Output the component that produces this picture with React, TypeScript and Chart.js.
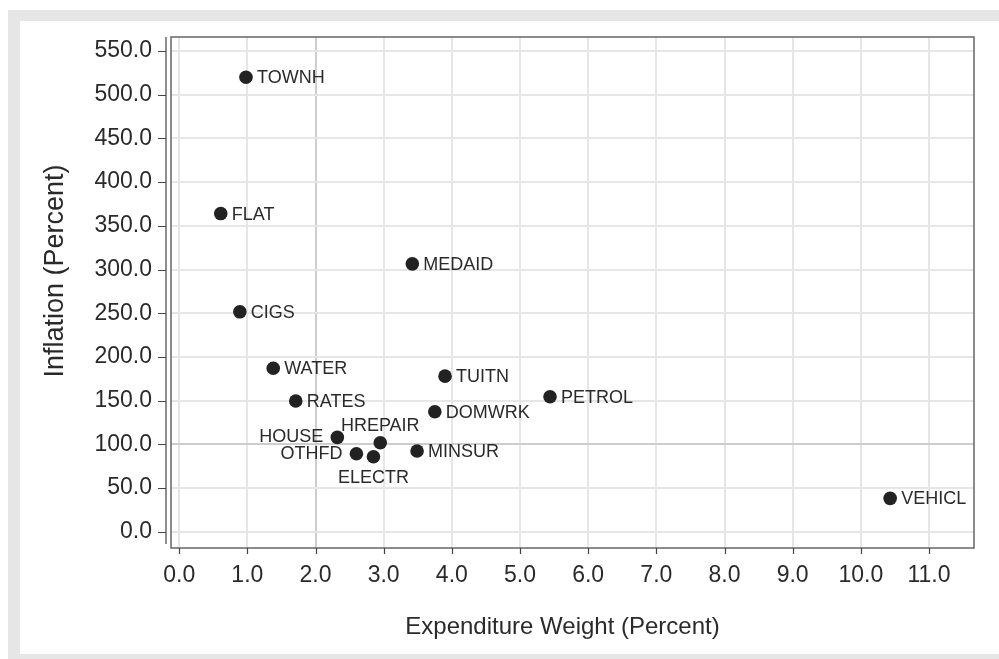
import React, { useEffect, useRef } from "react";
import { Chart, registerables } from "chart.js";

Chart.register(...registerables);

const names = ["TOWNH", "FLAT", "MEDAID", "CIGS", "WATER", "TUITN", "PETROL", "RATES", "DOMWRK", "HOUSE", "HREPAIR", "MINSUR", "OTHFD", "ELECTR", "VEHICL"];
const weights = [0.98, 0.61, 3.42, 0.89, 1.38, 3.9, 5.44, 1.71, 3.75, 2.32, 2.95, 3.49, 2.6, 2.85, 10.43];
const inflation = [520, 364, 306.5, 251.6, 187, 178, 154.4, 149.5, 137.2, 108, 101.8, 92.3, 89.2, 85.8, 38.2];

const xTitle = "Expenditure Weight (Percent)";
const yTitle = "Inflation (Percent)";

// label placement (style only)
const labelSide: Record<string, string> = { HOUSE: "left", OTHFD: "left", HREPAIR: "above", ELECTR: "below" };

const FONT = '"Liberation Sans", Arial, Helvetica, sans-serif';
const TEXT = "#2a2a2a";

const decor = {
  id: "decor",
  beforeDatasetsDraw(chart: any) {
    const { ctx, chartArea: a, scales } = chart;
    ctx.save();
    ctx.strokeStyle = "#666";
    ctx.lineWidth = 1.5;
    ctx.strokeRect(a.left, a.top, a.right - a.left, a.bottom - a.top);
    ctx.strokeStyle = "#444";
    ctx.lineWidth = 1.2;
    ctx.beginPath();
    ctx.moveTo(a.left - 5, a.top);
    ctx.lineTo(a.left - 5, a.bottom - 4);
    scales.y.ticks.forEach((t: any) => {
      const p = Math.round(scales.y.getPixelForValue(t.value)) + 0.5;
      ctx.moveTo(a.left - 13, p);
      ctx.lineTo(a.left - 5, p);
    });
    scales.x.ticks.forEach((t: any) => {
      const p = Math.round(scales.x.getPixelForValue(t.value)) + 0.5;
      ctx.moveTo(p, a.bottom);
      ctx.lineTo(p, a.bottom + 6);
    });
    ctx.stroke();
    ctx.restore();
  },
  afterDatasetsDraw(chart: any) {
    const { ctx, chartArea: a } = chart;
    const meta = chart.getDatasetMeta(0);
    ctx.save();
    ctx.fillStyle = TEXT;
    ctx.font = `18px ${FONT}`;
    meta.data.forEach((el: any, i: number) => {
      const name = names[i];
      const side = labelSide[name] || "right";
      let x = el.x, y = el.y;
      if (side === "right") { ctx.textAlign = "left"; ctx.textBaseline = "middle"; x += 11; y += 1; }
      else if (side === "left") { ctx.textAlign = "right"; ctx.textBaseline = "middle"; x -= 14; }
      else if (side === "above") { ctx.textAlign = "center"; ctx.textBaseline = "bottom"; y -= 8; }
      else { ctx.textAlign = "center"; ctx.textBaseline = "top"; y += 12; }
      ctx.fillText(name, x, y);
    });
    // axis titles
    ctx.textAlign = "center";
    ctx.textBaseline = "middle";
    ctx.font = `24px ${FONT}`;
    ctx.fillText(xTitle, (a.left + a.right) / 2 - 10, a.bottom + 79);
    ctx.font = `27px ${FONT}`;
    ctx.translate(a.left - 115, a.top + 234);
    ctx.rotate(-Math.PI / 2);
    ctx.fillText(yTitle, 0, 0);
    ctx.restore();
  },
};

export default function App() {
  const ref = useRef<HTMLCanvasElement>(null);
  useEffect(() => {
    if (!ref.current) return;
    const chart = new Chart(ref.current, {
      type: "scatter",
      data: {
        datasets: [
          {
            data: weights.map((w, i) => ({ x: w, y: inflation[i] })),
            backgroundColor: "#222",
            borderWidth: 0,
            pointRadius: 6.8,
            pointHoverRadius: 6.8,
          },
        ],
      },
      options: {
        responsive: false,
        animation: false,
        devicePixelRatio: 1,
        layout: { padding: { top: 16, right: 25, left: 0, bottom: 0 } },
        plugins: { legend: { display: false }, tooltip: { enabled: false } },
        scales: {
          x: {
            type: "linear",
            min: -0.12,
            max: 11.66,
            afterFit: (s: any) => { s.height = 106; s.paddingLeft = 0; s.paddingRight = 0; },
            border: { display: false },
            grid: { color: (c: any) => (c.tick && c.tick.value === 2 ? "#cdcdcd" : "#e6e6e6"), lineWidth: 2, drawTicks: false },
            ticks: {
              stepSize: 1,
              includeBounds: false,
              autoSkip: false,
              maxRotation: 0,
              padding: 14,
              color: TEXT,
              font: { family: FONT, size: 23 },
              callback: (v: any) => Number(v).toFixed(1),
            },
          },
          y: {
            type: "linear",
            min: -18.6,
            max: 566,
            afterFit: (s: any) => { s.width = 151; s.paddingTop = 0; s.paddingBottom = 0; },
            border: { display: false },
            grid: { color: (c: any) => (c.tick && c.tick.value === 100 ? "#cdcdcd" : "#e6e6e6"), lineWidth: 2, drawTicks: false },
            ticks: {
              stepSize: 50,
              includeBounds: false,
              autoSkip: false,
              padding: 19,
              color: TEXT,
              font: { family: FONT, size: 23 },
              callback: (v: any) => Number(v).toFixed(1),
            },
          },
        },
      },
      plugins: [decor],
    });
    return () => chart.destroy();
  }, []);

  return (
    <div style={{ position: "fixed", left: 8, top: 10, width: 991, height: 649, background: "#e6e6e6" }}>
      <div style={{ position: "absolute", left: 12, top: 11, width: 979, height: 633, background: "#fff" }}>
        <canvas ref={ref} width={979} height={633} style={{ display: "block", width: 979, height: 633 }} />
      </div>
    </div>
  );
}
